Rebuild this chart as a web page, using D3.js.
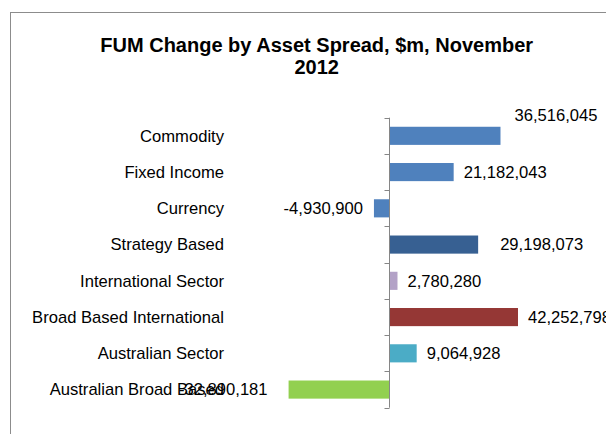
<!DOCTYPE html>
<html><head><meta charset="utf-8">
<script src="https://cdn.jsdelivr.net/npm/d3@7/dist/d3.min.js"></script>
<style>body{margin:0;background:#fff}svg{display:block}text{font-family:"Liberation Sans",Arial,sans-serif}</style>
</head><body><svg id="c" width="606" height="434"></svg>
<script>
const categories = ["Commodity","Fixed Income","Currency","Strategy Based","International Sector","Broad Based International","Australian Sector","Australian Broad Based"];
const values = [36516045, 21182043, -4930900, 29198073, 2780280, 42252798, 9064928, -32890181];
const colors = ["#4F81BD","#4F81BD","#4F81BD","#376092","#B3A2C7","#953735","#4BACC6","#92D050"];
// manual label nudges (px) as in the original
const labelDx = [14, 10, -11, 22, 10, 10, 10, -21];
const labelDy = [-21, 0, 0, 0, 0, 0, 0, 0];

const svg = d3.select("#c");
svg.append("rect").attr("x",10.5).attr("y",12.5).attr("width",700).attr("height",500)
  .attr("fill","none").attr("stroke","#8c8c8c").attr("stroke-width",1);

const titleLines = ["FUM Change by Asset Spread, $m, November","2012"];
svg.selectAll("text.title").data(titleLines).join("text").attr("class","title")
  .attr("x",316.7).attr("y",(d,i)=>51.6+i*22).attr("text-anchor","middle")
  .attr("font-size","20px").attr("font-weight","bold").attr("fill","#000").text(d=>d);

const pxPerM = 3.053;
const x = d3.scaleLinear().domain([-40e6, 50e6]).range([389 - 40*pxPerM, 389 + 50*pxPerM]);
const y = d3.scaleBand().domain(categories).range([117.7, 407.7]).paddingInner(0.5).paddingOuter(0.25);

const g = svg.append("g");
g.selectAll("rect.bar").data(values).join("rect").attr("class","bar")
  .attr("x",(d)=>x(Math.min(0,d))).attr("width",d=>Math.abs(x(d)-x(0)))
  .attr("y",(d,i)=>y(categories[i])).attr("height",y.bandwidth())
  .attr("fill",(d,i)=>colors[i]);

// axis
const yAxis = d3.axisLeft(y).tickSize(5).tickFormat("");
const ax = svg.append("g").attr("transform",`translate(${Math.round(x(0))+0.5},0)`).call(yAxis);
ax.select(".domain").attr("stroke","#868686").attr("d",`M0,${y.range()[0]}V${y.range()[1]}`);
// Excel-style ticks at band boundaries
ax.selectAll(".tick").remove();
const bounds = categories.map(c=>y(c)-y.step()*y.paddingInner()/2).concat([y.range()[1]]);
ax.selectAll("line.tk").data(bounds).join("line").attr("class","tk")
  .attr("x1",-5).attr("x2",0).attr("y1",d=>Math.round(d)+0.5).attr("y2",d=>Math.round(d)+0.5)
  .attr("stroke","#868686");

// category labels
svg.selectAll("text.cat").data(categories).join("text").attr("class","cat")
  .attr("x",224).attr("y",d=>y(d)+y.bandwidth()/2).attr("dy","0.35em")
  .attr("text-anchor","end").attr("font-size","16.6px").attr("fill","#000").text(d=>d);

const fmt = d3.formatLocale({decimal:".",thousands:",",grouping:[3],currency:["$",""],minus:"-"}).format(",");
svg.selectAll("text.val").data(values).join("text").attr("class","val")
  .attr("x",(d,i)=>x(d)+labelDx[i])
  .attr("y",(d,i)=>y(categories[i])+y.bandwidth()/2+labelDy[i]).attr("dy","0.35em")
  .attr("text-anchor",d=>d<0?"end":"start").attr("font-size","16.6px").attr("fill","#000")
  .text(d=>fmt(d));
</script></body></html>
